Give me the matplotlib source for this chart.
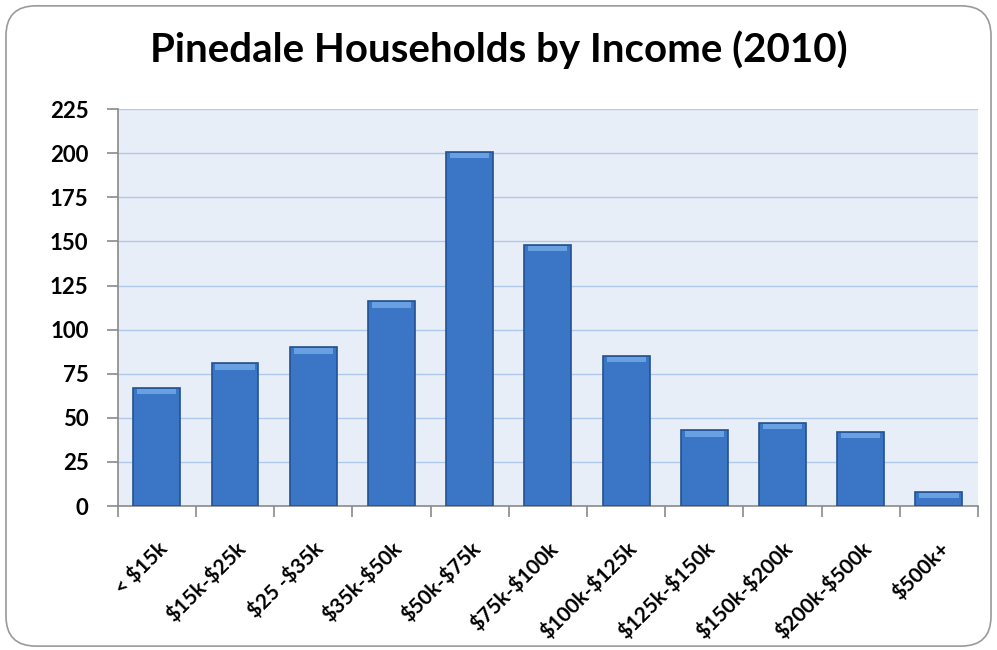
import numpy as np
import matplotlib.pyplot as plt
from matplotlib.patches import FancyBboxPatch

categories = ['< $15k', '$15k-$25k', '$25 -$35k', '$35k-$50k', '$50k-$75k',
              '$75k-$100k', '$100k-$125k', '$125k-$150k', '$150k-$200k',
              '$200k-$500k', '$500k+']
households = [67, 81, 90, 116, 201, 148, 85, 43, 47, 42, 8]
yticks = [0, 25, 50, 75, 100, 125, 150, 175, 200, 225]

plt.rcParams['font.family'] = ['Lato', 'DejaVu Sans']
plt.rcParams['font.weight'] = 'bold'

fig = plt.figure(figsize=(9.97, 6.5), dpi=100)
fig.patch.set_facecolor('white')
border = FancyBboxPatch((0.006, 0.006), 0.988, 0.985, boxstyle='round,pad=0,rounding_size=0.03',
                        transform=fig.transFigure, facecolor='none', edgecolor='#9a9a9a',
                        linewidth=1.2, mutation_aspect=997 / 650)
fig.patches.append(border)

ax = fig.add_axes([0.118, 0.2215, 0.863, 0.6105])
ax.set_facecolor('#E7EEF8')

x = np.arange(len(categories))
ax.bar(x, households, width=0.6, color='#3B76C6', edgecolor='#24518F', linewidth=1.2, zorder=3)
# lighter bevel on top of each bar
bev = [min(3.0, h * 0.4) for h in households]
ax.bar(x, bev, bottom=[h - b - 0.6 for h, b in zip(households, bev)],
       width=0.5, color='#69A0E2', linewidth=0, zorder=4)

ax.set_xlim(-0.5, len(categories) - 0.5)
ax.set_ylim(0, 225)
ax.set_yticks(yticks)
ax.set_yticklabels([str(v) for v in yticks], fontsize=16, fontweight='bold')
ax.yaxis.grid(True, color='#AFC9EC', linewidth=1, zorder=0)
ax.set_axisbelow(True)

ax.set_xticks(x)
ax.set_xticklabels([c.replace('$', r'\$') for c in categories], rotation=45, ha='right',
                   rotation_mode='anchor', fontsize=15, fontweight='bold')
ax.tick_params(axis='x', length=0, pad=23)
ax.set_xticks(np.arange(-0.5, len(categories)), minor=True)
ax.tick_params(axis='x', which='minor', length=8, color='#8a8a8a', width=1.2)
ax.tick_params(axis='y', length=8, color='#8a8a8a', width=1.2, pad=13)

for s in ['top', 'right']:
    ax.spines[s].set_visible(False)
for s in ['left', 'bottom']:
    ax.spines[s].set_color('#8a8a8a')
    ax.spines[s].set_linewidth(1.2)

fig.text(0.5, 0.923, 'Pinedale Households by Income (2010)', ha='center', va='center',
         fontsize=29, fontweight='bold')

fig.savefig('out.png', dpi=100)
